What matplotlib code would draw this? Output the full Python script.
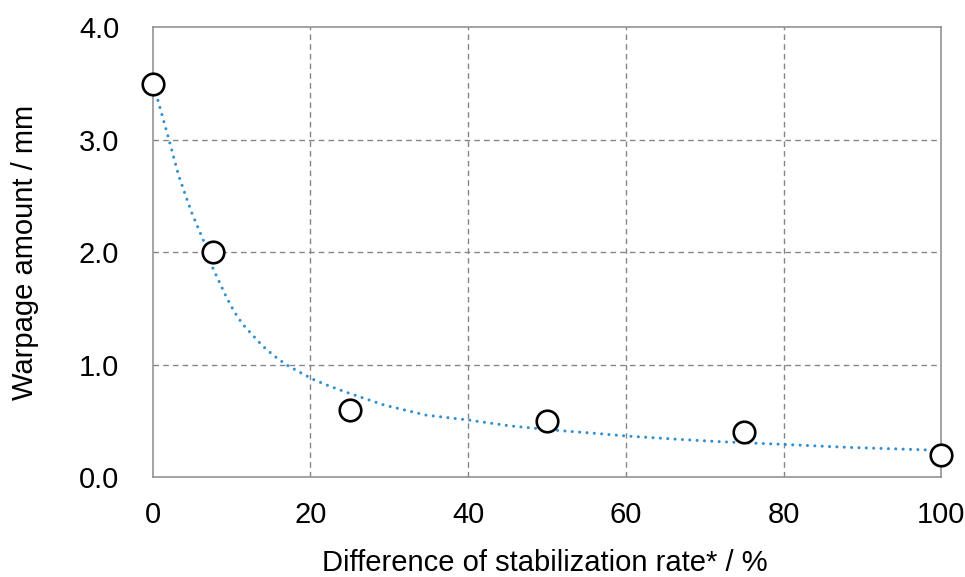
import matplotlib
matplotlib.use("Agg")
import matplotlib.pyplot as plt

# measured data points
x_data = [0, 7.7, 25, 50, 75, 100]
y_data = [3.5, 2.0, 0.6, 0.5, 0.4, 0.2]

# trend line
trend_x = [0.67, 2.03, 3.3, 4.9, 6.4, 7.65, 9.35, 10.35, 11.4, 12.7, 13.95, 15.4,
           17.0, 18.7, 20.3, 22.0, 24.3, 29.35, 34.7, 40.0, 45.4, 50.7, 56.0, 60.0,
           66.7, 72.0, 80.0, 88.0, 96.0, 100.0]
trend_y = [3.35, 3.01, 2.68, 2.36, 2.11, 1.855, 1.60, 1.47, 1.36, 1.26, 1.165, 1.077,
           0.996, 0.93, 0.87, 0.82, 0.76, 0.64, 0.55, 0.507, 0.454, 0.418, 0.389, 0.365,
           0.335, 0.314, 0.29, 0.264, 0.246, 0.237]

x_ticks = [0, 20, 40, 60, 80, 100]
y_ticks = [0.0, 1.0, 2.0, 3.0, 4.0]

plt.rcParams['font.family'] = ['Liberation Sans', 'DejaVu Sans']

fig = plt.figure(figsize=(9.65, 5.77), dpi=100)
ax = fig.add_axes([0.1582, 0.1733, 0.9754 - 0.1582, 0.9527 - 0.1733])

ax.plot(trend_x, trend_y, color='#2E8FD3', linewidth=2.2,
        linestyle=(0, (0.01, 2.4)), dash_capstyle='round', zorder=2)
ax.plot(x_data, y_data, linestyle='none', marker='o', markersize=15.5,
        markerfacecolor='white', markeredgecolor='black', markeredgewidth=1.9,
        zorder=3, clip_on=False)

ax.set_xlim(0, 100)
ax.set_ylim(0, 4.0)
ax.set_xticks(x_ticks)
ax.set_xticklabels([f"{v:d}" for v in x_ticks])
ax.set_yticks(y_ticks)
ax.set_yticklabels([f"{v:.1f}" for v in y_ticks])

for t in [20, 40, 60, 80]:
    ax.axvline(t, color='#858585', linewidth=1.0, linestyle=(0, (4, 3)), zorder=1)
for t in [1.0, 2.0, 3.0]:
    ax.axhline(t, color='#858585', linewidth=1.0, linestyle=(0, (4, 3)), zorder=1)

for s in ax.spines.values():
    s.set_color('#8A8A8A')
    s.set_linewidth(1.1)

ax.tick_params(axis='both', length=0, labelsize=21, colors='black')
ax.tick_params(axis='y', pad=24)
ax.tick_params(axis='x', pad=17)

ax.set_xlabel('Difference of stabilization rate* / %', fontsize=21, va='baseline')
ax.xaxis.set_label_coords(0.497, -0.209)
ax.set_ylabel('Warpage amount / mm', fontsize=21)
ax.yaxis.set_label_coords(-0.1435, 0.5)

fig.savefig('out.png', dpi=100)
